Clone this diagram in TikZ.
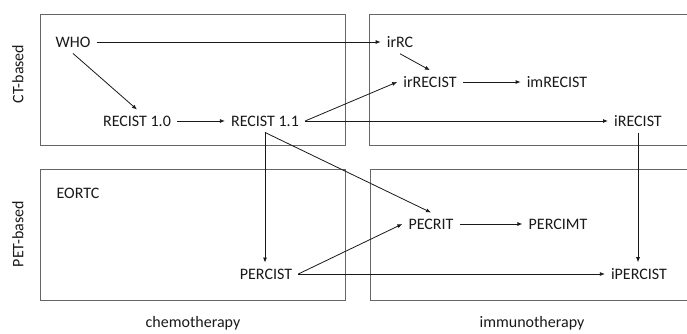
\documentclass[tikz,border=0pt]{standalone}
\usepackage{fontspec}
\setmainfont{Carlito}
\usetikzlibrary{arrows.meta}
\begin{document}
\begin{tikzpicture}[x=1pt,y=-1pt,
  lbl/.style={inner sep=6pt, font=\fontsize{16}{18}\selectfont, text=black!90},
  axis/.style={inner sep=0pt, font=\fontsize{16}{18}\selectfont, text=black!90},
  frame/.style={draw=black!60, line width=0.8pt},
  arr/.style={draw=black!90, line width=0.8pt, -{Latex[length=5pt,width=4pt]}}]
\useasboundingbox (0,0) rectangle (687,334);
% panels
\draw[frame] (40,14) rectangle (345,145);
\draw[frame] (40,169) rectangle (345,300);
\draw[frame] (695,14) -- (369,14) -- (369,145) -- (695,145);
\draw[frame] (695,169) -- (370,169) -- (370,300) -- (695,300);
% axis labels
\node[axis, rotate=90] (ct) at (18,74) {CT-based};
\node[axis, rotate=90] (pet) at (18,234) {PET-based};
\node[axis] (chemo) at (193,323) {chemotherapy};
\node[axis] (immuno) at (532,323) {immunotherapy};
% nodes
\node[lbl] (who) at (73,42) {WHO};
\node[lbl] (r10) at (137,121) {RECIST 1.0};
\node[lbl] (r11) at (265,121) {RECIST 1.1};
\node[lbl] (irrc) at (400,42) {irRC};
\node[lbl] (irrecist) at (430,82) {irRECIST};
\node[lbl] (imrecist) at (557,82) {imRECIST};
\node[lbl] (irecist) at (638,121) {iRECIST};
\node[lbl] (eortc) at (78,193) {EORTC};
\node[lbl] (percist) at (266,274) {PERCIST};
\node[lbl] (pecrit) at (431,224) {PECRIT};
\node[lbl] (percimt) at (558,224) {PERCIMT};
\node[lbl] (ipercist) at (639,274) {iPERCIST};
% connectors
\draw[arr] (who.east) -- (irrc.west);
\draw[arr] (who.south) -- (r10.north);
\draw[arr] (r10.east) -- (r11.west);
\draw[arr] (r11.east) -- (irrecist.west);
\draw[arr] (r11.east) -- (irecist.west);
\draw[arr] (irrc.south) -- (irrecist.north);
\draw[arr] (irrecist.east) -- (imrecist.west);
\draw[arr] (r11.south) -- (r11.south |- percist.north);
\draw[arr] (r11.south) -- (pecrit.north);
\draw[arr] (irecist.south) -- (irecist.south |- ipercist.north);
\draw[arr] (percist.east) -- (pecrit.west);
\draw[arr] (percist.east) -- (ipercist.west);
\draw[arr] (pecrit.east) -- (percimt.west);
\end{tikzpicture}
\end{document}
